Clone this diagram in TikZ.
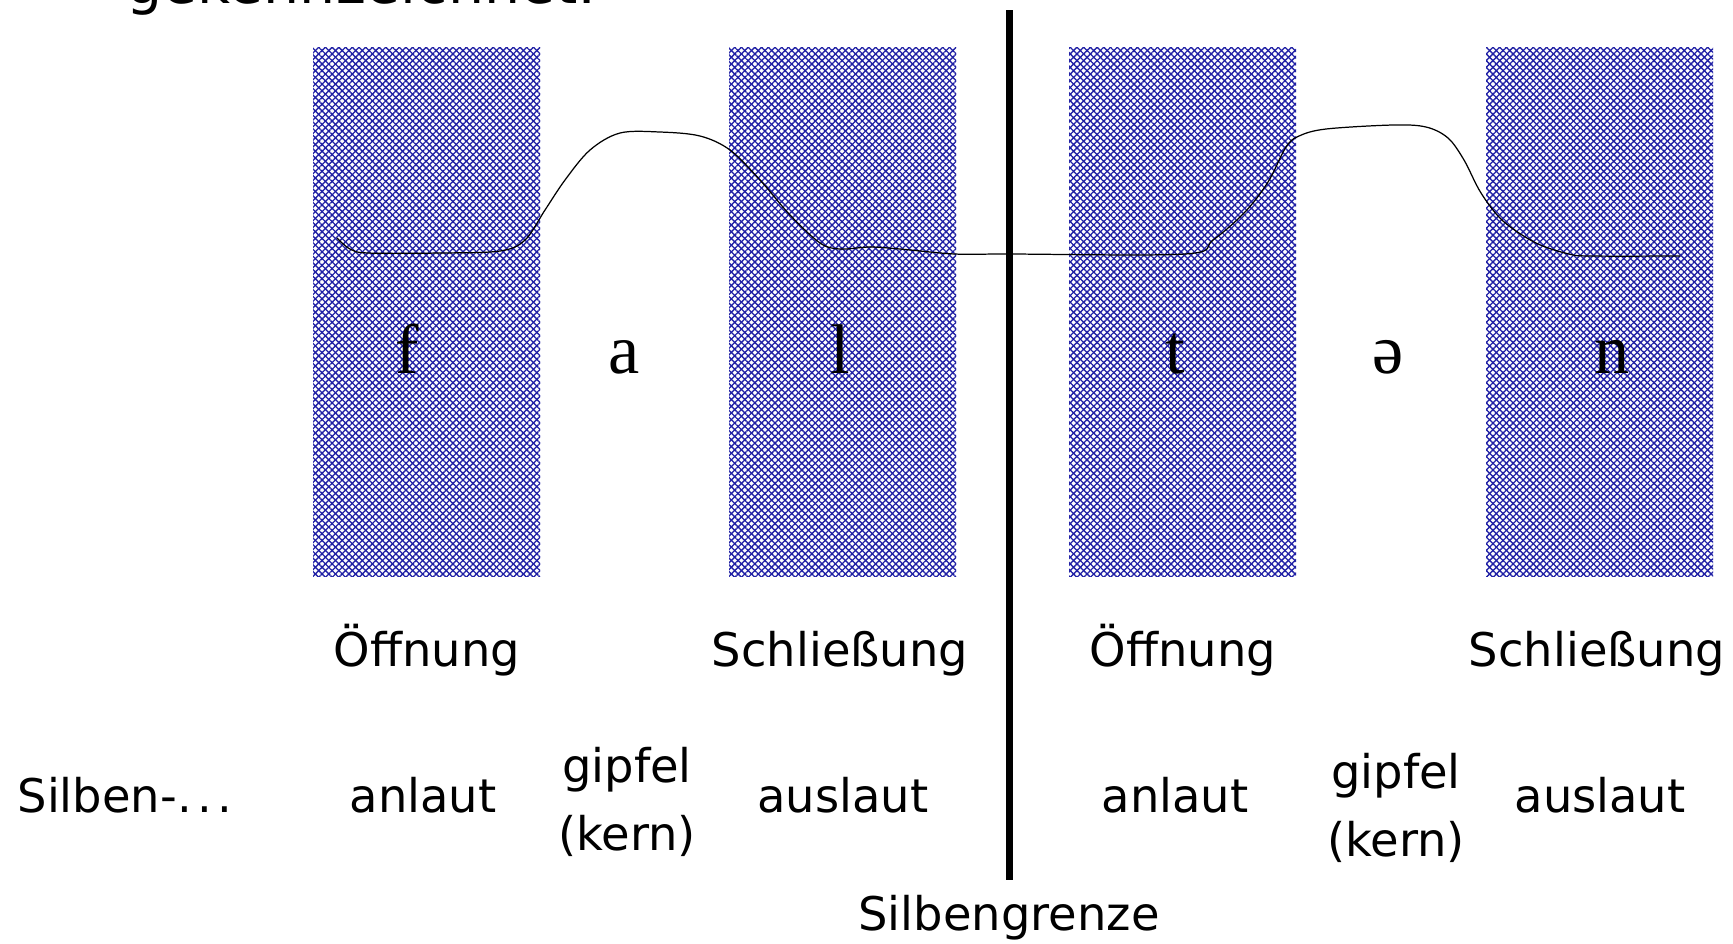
\documentclass[tikz,border=0pt]{standalone}
\usepackage{fontspec}
\setmainfont{DejaVu Sans}
\newfontfamily\ipafont{Liberation Serif}
\usetikzlibrary{patterns.meta}
\definecolor{hatchblue}{RGB}{32,32,165}
\tikzset{
  hatchbox/.style={draw=none, inner sep=0pt, outer sep=0pt, anchor=north west,
    minimum width=2.27cm, minimum height=5.29cm,
    pattern={Lines[angle=45,distance=1.35pt,line width=0.38pt]}, pattern color=hatchblue,
    preaction={pattern={Lines[angle=-45,distance=1.35pt,line width=0.38pt]}, pattern color=hatchblue}},
  phon/.style={anchor=base, inner sep=0pt, font=\ipafont\fontsize{20pt}{24pt}\selectfont},
  lab/.style={anchor=base, inner sep=0pt, font=\fontsize{13.2pt}{19.3pt}\selectfont, align=center},
  curve/.style={line width=0.35pt, black},
  border/.style={line width=0.075cm, black}
}
\begin{document}
\begin{tikzpicture}[x=1cm,y=1cm]
\useasboundingbox (0,0) rectangle (17.33,-9.43);
\fill[white] (0,0) rectangle (17.33,-9.43);

% cut-off heading
\begin{scope}
\clip (0,0) rectangle (17.33,-9.43);
\node[anchor=base west, inner sep=0pt, font=\fontsize{16.2pt}{19pt}\selectfont] (head) at (1.26,-0.035) {gekennzeichnet:};
\end{scope}

% hatched boxes
\node[hatchbox] (b1) at (3.13,-0.47) {};
\node[hatchbox] (b2) at (7.29,-0.47) {};
\node[hatchbox] (b3) at (10.69,-0.47) {};
\node[hatchbox] (b4) at (14.86,-0.47) {};

% curve
\draw[curve] plot[smooth, tension=0.55] coordinates {
 (3.37,-2.38) (3.50,-2.49) (3.68,-2.53) (4.40,-2.53) (5.00,-2.51) (5.25,-2.40)
 (5.45,-2.10) (5.65,-1.80) (5.90,-1.50) (6.20,-1.33) (6.60,-1.32) (7.00,-1.36)
 (7.30,-1.50) (7.60,-1.80) (7.90,-2.15) (8.20,-2.43) (8.40,-2.49) (8.70,-2.47)
 (9.00,-2.49) (9.55,-2.54) (10.08,-2.54) (11.85,-2.54) (12.13,-2.40)
 (12.45,-2.12) (12.68,-1.82) (12.86,-1.47) (12.99,-1.36) (13.26,-1.29)
 (13.93,-1.25) (14.26,-1.27) (14.48,-1.38) (14.64,-1.60) (14.81,-1.93)
 (15.03,-2.21) (15.36,-2.43) (15.69,-2.54) (15.91,-2.56) (16.80,-2.56)};

% syllable border
\coordinate (gt) at (10.095,-0.10);
\coordinate (gb) at (10.095,-8.80);
\draw[border] (gt) -- (gb);

% phonetic letters
\node[phon] (pf) at (4.07,-3.73) {f};
\node[phon] (pa) at (6.24,-3.73) {a};
\node[phon] (pl) at (8.40,-3.73) {l};
\node[phon] (pt) at (11.75,-3.73) {t};
\node[phon] (pe) at (13.88,-3.73) {ə};
\node[phon] (pn) at (16.12,-3.73) {n};

% phases
\node[lab] (o1) at (4.27,-6.66) {Öffnung};
\node[lab] (s1) at (8.40,-6.66) {Schließung};
\node[lab] (o2) at (11.83,-6.66) {Öffnung};
\node[lab] (s2) at (15.97,-6.66) {Schließung};

% syllable parts
\node[lab] (sil) at (1.25,-8.12) {Silben-.\kern0.12em.\kern0.12em.};
\node[lab] (an1) at (4.23,-8.12) {anlaut};
\node[lab] (gi1) at (6.27,-8.50) {gipfel\\(kern)};
\node[lab] (au1) at (8.43,-8.12) {auslaut};
\node[lab] (an2) at (11.75,-8.12) {anlaut};
\node[lab] (gi2) at (13.96,-8.56) {gipfel\\(kern)};
\node[lab] (au2) at (16.00,-8.12) {auslaut};

\node[lab] (grenze) at (10.09,-9.30) {Silbengrenze};
\end{tikzpicture}
\end{document}
